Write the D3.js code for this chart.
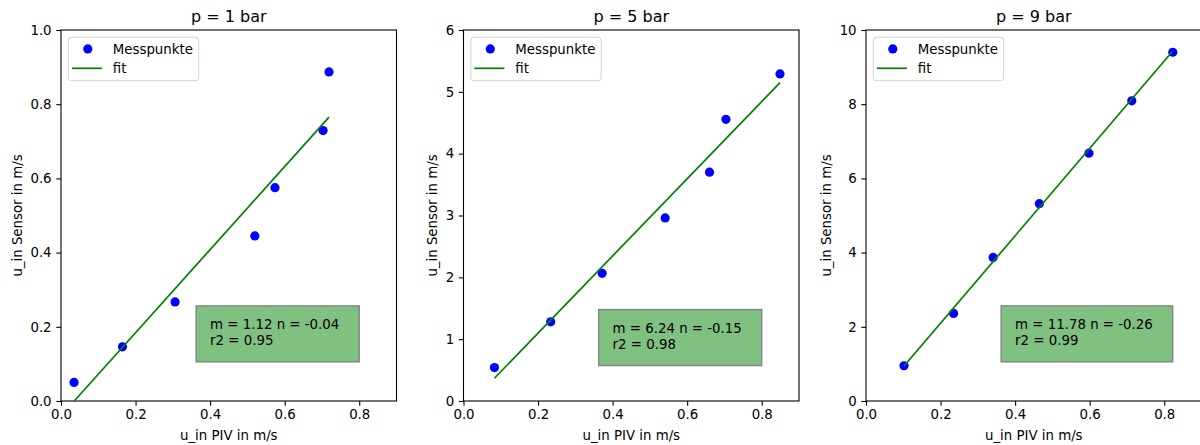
<!DOCTYPE html>
<html>
<head>
<meta charset="utf-8">
<script src="https://cdn.jsdelivr.net/npm/d3@7"></script>
<style>
  html, body { margin: 0; padding: 0; background: #fff; }
  svg { display: block; font-family: "DejaVu Sans", sans-serif; }
</style>
</head>
<body>
<svg id="chart" width="1200" height="445"></svg>
<script>
// Calibration measurements: PIV inlet velocity vs. sensor reading, three pressures
const titles = ["p = 1 bar", "p = 5 bar", "p = 9 bar"];

const pivP1 = [0.035, 0.165, 0.306, 0.520, 0.574, 0.703, 0.719];
const sensorP1 = [0.050, 0.146, 0.267, 0.445, 0.575, 0.729, 0.887];

const pivP5 = [0.083, 0.234, 0.372, 0.541, 0.660, 0.704, 0.849];
const sensorP5 = [0.54, 1.28, 2.065, 2.96, 3.70, 4.556, 5.29];

const pivP9 = [0.102, 0.235, 0.341, 0.465, 0.598, 0.713, 0.823];
const sensorP9 = [0.95, 2.36, 3.87, 5.32, 6.68, 8.09, 9.40];

// linear fit y = m*x + n and coefficient of determination
const slopes = [1.12, 6.24, 11.78];
const offsets = ["-0.04", "-0.15", "-0.26"];
const r2Values = ["0.95", "0.98", "0.99"];

// axis ranges and tick labels
const xMax = 0.9;
const xTicks = [0.0, 0.2, 0.4, 0.6, 0.8];
const yMaxes = [1.0, 6, 10];
const yTicksP1 = [0.0, 0.2, 0.4, 0.6, 0.8, 1.0];
const yTicksP5 = [0, 1, 2, 3, 4, 5, 6];
const yTicksP9 = [0, 2, 4, 6, 8, 10];
const yTickFormats = [".1f", "d", "d"];

const legendLabels = ["Messpunkte", "fit"];
const xLabel = "u_in PIV in m/s";
const yLabel = "u_in Sensor in m/s";

const panels = [
  { x: pivP1, y: sensorP1, yTicks: yTicksP1 },
  { x: pivP5, y: sensorP5, yTicks: yTicksP5 },
  { x: pivP9, y: sensorP9, yTicks: yTicksP9 }
];

// layout
const plotTop = 30, plotBottom = 401, plotW = 335.5, firstLeft = 61, step = 402.5;
const annotX = 0.4;
const annotYFrac = [0.15, 0.14, 0.15];   // last line baseline, as fraction of y range
const FS = 13.33;

const svg = d3.select("#chart");

panels.forEach((p, i) => {
  const left = firstLeft + i * step;
  const g = svg.append("g");

  const x = d3.scaleLinear().domain([0, xMax]).range([left, left + plotW]);
  const y = d3.scaleLinear().domain([0, yMaxes[i]]).range([plotBottom, plotTop]);

  // frame
  g.append("rect")
    .attr("x", x(0)).attr("y", y(yMaxes[i]))
    .attr("width", x(xMax) - x(0)).attr("height", y(0) - y(yMaxes[i]))
    .attr("fill", "none").attr("stroke", "#000").attr("stroke-width", 1.1);

  // x axis
  const xAxis = d3.axisBottom(x).tickValues(xTicks).tickFormat(d3.format(".1f"))
    .tickSizeInner(4.7).tickSizeOuter(0).tickPadding(3.5);
  const gx = g.append("g").attr("transform", `translate(0,${plotBottom})`).call(xAxis);
  gx.select(".domain").remove();
  gx.selectAll("line").attr("stroke", "#000").attr("stroke-width", 1.1);
  gx.selectAll("text").attr("font-size", FS).attr("fill", "#000")
    .attr("font-family", "DejaVu Sans");

  // y axis
  const yAxis = d3.axisLeft(y).tickValues(p.yTicks).tickFormat(d3.format(yTickFormats[i]))
    .tickSizeInner(4.7).tickSizeOuter(0).tickPadding(4.7);
  const gy = g.append("g").attr("transform", `translate(${left},0)`).call(yAxis);
  gy.select(".domain").remove();
  gy.selectAll("line").attr("stroke", "#000").attr("stroke-width", 1.1);
  gy.selectAll("text").attr("font-size", FS).attr("fill", "#000")
    .attr("font-family", "DejaVu Sans");

  let maxW = 0;
  gy.selectAll("text").each(function () { maxW = Math.max(maxW, this.getComputedTextLength()); });

  // axis labels
  g.append("text")
    .attr("x", (x(0) + x(xMax)) / 2).attr("y", 439.5)
    .attr("text-anchor", "middle").attr("font-size", FS).attr("fill", "#000")
    .text(xLabel);

  const yLabX = left - 9.4 - maxW - 8.4;
  g.append("text")
    .attr("transform", `translate(${yLabX},${(plotTop + plotBottom) / 2}) rotate(-90)`)
    .attr("text-anchor", "middle").attr("font-size", FS).attr("fill", "#000")
    .text(yLabel);

  // title
  g.append("text")
    .attr("x", (x(0) + x(xMax)) / 2).attr("y", 22)
    .attr("text-anchor", "middle").attr("font-size", 16).attr("fill", "#000")
    .text(titles[i]);

  // measurement points
  const pts = p.x.map((v, k) => [v, p.y[k]]);
  g.append("g").selectAll("circle").data(pts).join("circle")
    .attr("cx", d => x(d[0])).attr("cy", d => y(d[1]))
    .attr("r", 4.6).attr("fill", "#0000ff");

  // fit line over measured range
  const m = slopes[i], n = +offsets[i];
  const x0 = d3.min(p.x), x1 = d3.max(p.x);
  g.append("path")
    .datum([[x0, m * x0 + n], [x1, m * x1 + n]])
    .attr("d", d3.line().x(d => x(d[0])).y(d => y(d[1])))
    .attr("stroke", "#008000").attr("stroke-width", 1.7).attr("fill", "none");

  // fit annotation
  const ax = x(annotX);
  const base2 = y(annotYFrac[i] * yMaxes[i]);
  const base1 = base2 - 16;
  const box = g.append("rect");
  const t = g.append("text").attr("font-size", FS).attr("fill", "#000");
  t.append("tspan").attr("x", ax).attr("y", base1)
    .text(`m = ${slopes[i].toFixed(2)} n = ${offsets[i]}`);
  t.append("tspan").attr("x", ax).attr("y", base2)
    .text(`r2 = ${r2Values[i]}`);
  const tw = t.node().getBBox().width;
  box.attr("x", ax - 14).attr("y", base1 - 23.5)
    .attr("width", tw + 34).attr("height", 56)
    .attr("fill", "#80c080").attr("stroke", "#808080").attr("stroke-width", 1.3);

  // legend
  const lx = left + 7.3, ly = plotTop + 7.3;
  const lg = g.append("g");
  lg.append("rect").attr("x", lx).attr("y", ly).attr("width", 130.4).attr("height", 43.4)
    .attr("rx", 3).attr("fill", "#fff").attr("fill-opacity", 0.8)
    .attr("stroke", "#d3d3d3").attr("stroke-width", 1);
  lg.append("circle").attr("cx", lx + 19.5).attr("cy", ly + 11.6).attr("r", 4.6).attr("fill", "#0000ff");
  lg.append("line").attr("x1", lx + 3.6).attr("x2", lx + 33.6)
    .attr("y1", ly + 31).attr("y2", ly + 31)
    .attr("stroke", "#008000").attr("stroke-width", 1.7);
  lg.selectAll("text.lab").data(legendLabels).join("text")
    .attr("class", "lab")
    .attr("x", lx + 44.5).attr("y", (d, k) => ly + 11.6 + k * 19.5)
    .attr("dy", "0.35em").attr("font-size", FS).attr("fill", "#000")
    .text(d => d);
});
</script>
</body>
</html>
